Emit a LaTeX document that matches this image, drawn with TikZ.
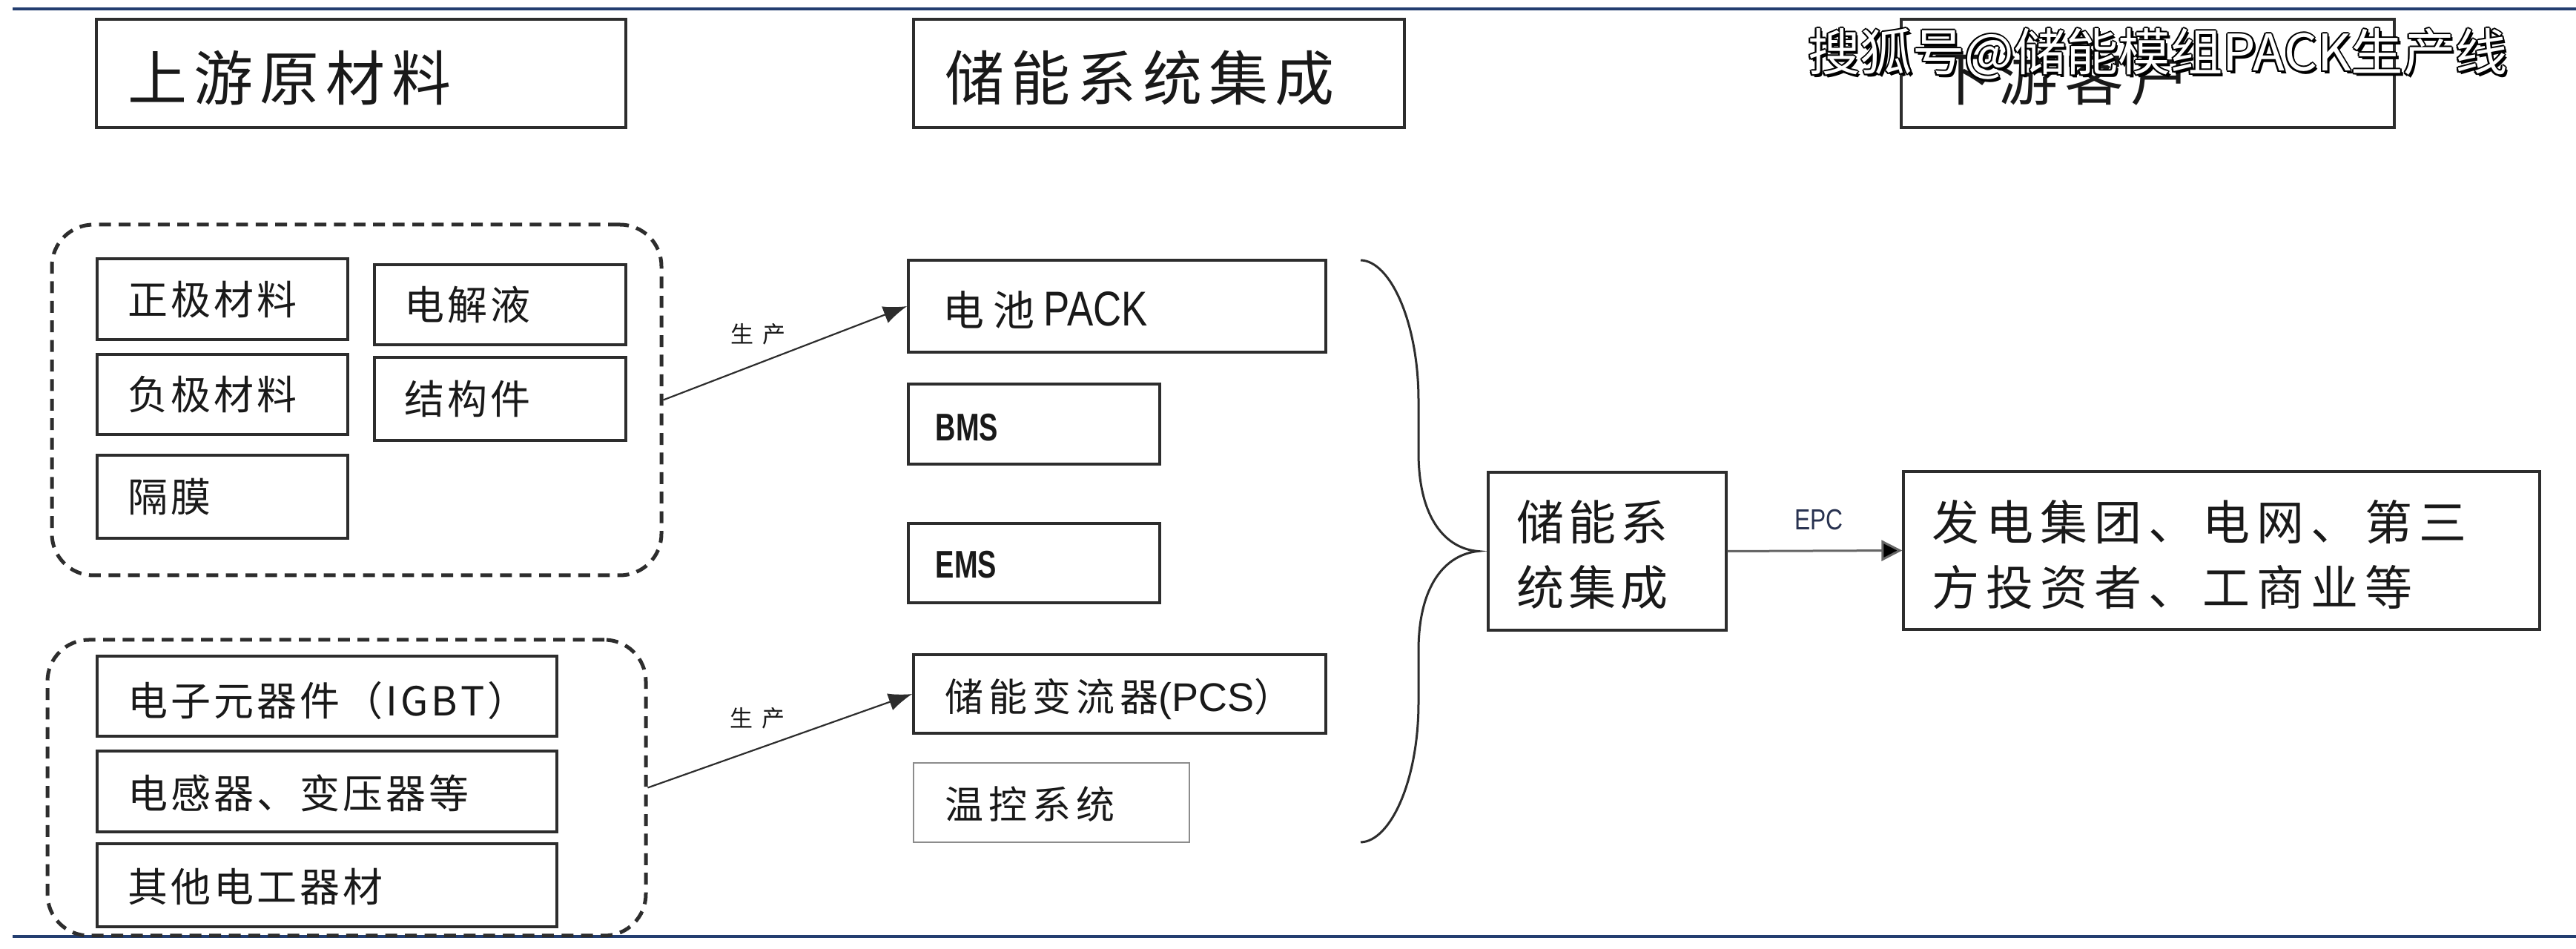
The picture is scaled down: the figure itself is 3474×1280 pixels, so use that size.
\documentclass[tikz,border=0pt]{standalone}
\usepackage{fontspec}
\usepackage{graphicx}
\setmainfont{Noto Sans CJK SC}
\newfontfamily\lat{Liberation Sans}
\usetikzlibrary{fit,arrows.meta}
\definecolor{navy}{RGB}{35,62,112}
\definecolor{lc}{RGB}{45,45,45}
\definecolor{tc}{RGB}{25,25,25}
\definecolor{wkc}{RGB}{140,140,140}
\makeatletter
\newcommand\spc[2]{\def\spc@d{#1}\spc@a#2\relax\unskip}
\def\spc@a#1{\ifx#1\relax\else#1\hskip\spc@d\relax\expandafter\spc@a\fi}
\makeatother
\newcommand\fs[1]{\fontsize{#1}{#1}\selectfont}
\newcommand\wmtext{\scalebox{1.035}[1]{搜狐号@储能模组PACK生产线}}
\tikzset{
  bx/.style={draw=lc, line width=0.85pt, inner sep=0pt},
  hbx/.style={draw=lc, line width=1.1pt, inner sep=0pt},
  grp/.style={draw=lc, line width=1.25pt, dash pattern=on 4pt off 2.6pt, rounded corners=14pt, inner sep=0pt},
  txt/.style={inner sep=0pt, anchor=west, text=tc},
  ctxt/.style={inner sep=0pt, anchor=center, text=tc},
  prod/.style={-{Latex[length=8pt,width=6pt]}, line width=0.55pt, draw=lc},
  brc/.style={draw=lc, line width=0.75pt},
  wm/.style={inner sep=0pt, anchor=center, font=\fs{17pt}},
}
\begin{document}
\begin{tikzpicture}[x=0.25pt, y=-0.25pt]
\fill[white] (0,0) rectangle (3474,1280);
\useasboundingbox (0,0) rectangle (3474,1280);

% rules
\coordinate (tl1) at (17,12); \coordinate (tl2) at (3474,12);
\coordinate (bl1) at (17,1263); \coordinate (bl2) at (3474,1263);
\draw[navy, line width=1.1pt] (tl1) -- (tl2);
\draw[navy, line width=1.1pt] (bl1) -- (bl2);

% headers
\node[hbx, fit={(130,26) (844,172)}] (h1) {};
\node[txt] (h1t) at (172,105) {\fs{20pt}\spc{2.25pt}{上游原材料}};
\node[hbx, fit={(1232,26) (1894,172)}] (h2) {};
\node[txt] (h2t) at (1274,105) {\fs{20pt}\spc{2.25pt}{储能系统集成}};
\node[hbx, fit={(2564,26) (3229,172)}] (h3) {};
\node[txt] (h3t) at (2606,105) {\fs{20pt}\spc{2.25pt}{下游客户}};

% group 1
\node[grp, fit={(70,303) (892,776)}] (g1) {};
\node[bx, fit={(131,349) (469,458)}] (zj) {};
\node[txt] (zjt) at (172,404) {\fs{13.5pt}\spc{1pt}{正极材料}};
\node[bx, fit={(505,357) (844,465)}] (djy) {};
\node[txt] (djyt) at (545,411) {\fs{13.5pt}\spc{1pt}{电解液}};
\node[bx, fit={(131,478) (469,586)}] (fj) {};
\node[txt] (fjt) at (172,532) {\fs{13.5pt}\spc{1pt}{负极材料}};
\node[bx, fit={(505,482) (844,594)}] (jgj) {};
\node[txt] (jgjt) at (545,538) {\fs{13.5pt}\spc{1pt}{结构件}};
\node[bx, fit={(131,614) (469,726)}] (gm) {};
\node[txt] (gmt) at (172,670) {\fs{13.5pt}\spc{1pt}{隔膜}};

% group 2
\node[grp, fit={(64,863) (871,1262)}] (g2) {};
\node[bx, fit={(131,885) (751,993)}] (igbt) {};
\node[txt] (igbtt) at (172,945) {\fs{13.5pt}\spc{1pt}{电子元器件（IGBT）}};
\node[bx, fit={(131,1013) (751,1122)}] (gy) {};
\node[txt] (gyt) at (172,1070) {\fs{13.5pt}\spc{1pt}{电感器、变压器等}};
\node[bx, fit={(131,1138) (751,1250)}] (qt) {};
\node[txt] (qtt) at (172,1196) {\fs{13.5pt}\spc{1pt}{其他电工器材}};

% middle column
\node[bx, fit={(1225,351) (1788,475)}] (pack) {};
\node[txt] (packt) at (1271,418) {\fs{14pt}\spc{3pt}{电池}\hspace{3pt}{\lat\fs{16.5pt}\scalebox{0.8}[1]{PACK}}};
\node[bx, fit={(1225,518) (1564,626)}] (bms) {};
\node[txt] (bmst) at (1261,577) {\lat\bfseries\fs{13pt}\scalebox{0.73}[1]{BMS}};
\node[bx, fit={(1225,706) (1564,813)}] (ems) {};
\node[txt] (emst) at (1261,762) {\lat\bfseries\fs{13pt}\scalebox{0.73}[1]{EMS}};
\node[bx, fit={(1232,883) (1788,989)}] (pcs) {};
\node[txt] (pcst) at (1274,943) {\fs{13pt}\spc{1.75pt}{储能变流器}{\lat\fs{13.5pt}(PCS}）};
\node[draw=wkc, line width=0.7pt, inner sep=0pt, fit={(1232,1029) (1604,1136)}] (wk) {};
\node[txt] (wkt) at (1274,1085) {\fs{13pt}\spc{1.75pt}{温控系统}};

% production arrows
\draw[prod] (g1.east) -- (pack.west);
\node[ctxt] (p1) at (1022,451) {\fs{7.75pt}\spc{3pt}{生产}};
\draw[prod] (g2.east) -- (pcs.west);
\node[ctxt] (p2) at (1021,969) {\fs{7.75pt}\spc{3pt}{生产}};

% system integration & customers
\node[bx, fit={(2007,637) (2328,850)}] (sys) {};
\node[txt] (syst1) at (2045,704) {\fs{16pt}\spc{1.5pt}{储能系}};
\node[txt] (syst2) at (2045,792) {\fs{16pt}\spc{1.5pt}{统集成}};
\node[bx, fit={(2567,636) (3425,849)}] (cust) {};
\node[txt] (custt1) at (2605,704) {\fs{16pt}\spc{2.25pt}{发电集团、电网、第三}};
\node[txt] (custt2) at (2605,792) {\fs{16pt}\spc{2.25pt}{方投资者、工商业等}};

% brace
\coordinate (btop) at (1835,351);
\coordinate (bbot) at (1835,1136);
\coordinate (btip) at ([xshift=-3pt]sys.west);
\draw[brc] (btop) .. controls (1875,352) and (1913,435) .. (1913,540) -- (1913,610)
  .. controls (1913,700) and (1950,740) .. (btip)
  .. controls (1950,748) and (1913,788) .. (1913,878) -- (1913,948)
  .. controls (1913,1053) and (1875,1135) .. (bbot);

% EPC arrow
\draw[line width=0.75pt, draw=black!60, -{Triangle[length=7pt,width=7pt,fill=black]}] (sys.east) -- (cust.west);
\node[ctxt, text={rgb,255:red,40;green,50;blue,80}] (epc) at (2453,701) {\lat\fs{9.8pt}\scalebox{0.81}[1]{EPC}};

% watermark
\foreach \dx/\dy [count=\i] in {-2/0,2/0,0/-2,0/2,-1.5/-1.5,1.5/1.5,-1.5/1.5,1.5/-1.5,3.5/3.5} {
  \node[wm, text=black] (wmo\i) at (2910+\dx,73+\dy) {\wmtext};
}
\node[wm, text=white] (wm) at (2910,73) {\wmtext};
\end{tikzpicture}
\end{document}
